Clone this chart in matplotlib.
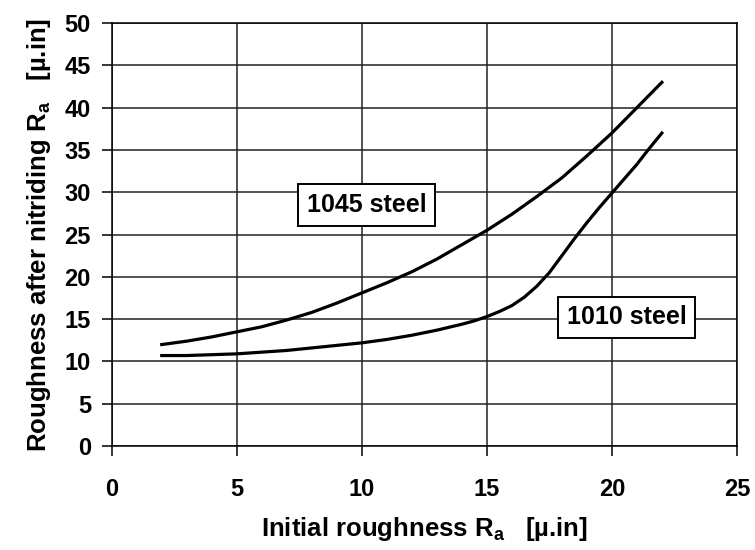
import matplotlib
matplotlib.use("Agg")
import matplotlib.pyplot as plt

plt.rcParams['font.family'] = ['Liberation Sans', 'DejaVu Sans']
plt.rcParams['font.weight'] = 'bold'
plt.rcParams['axes.labelweight'] = 'bold'
plt.rcParams['mathtext.fontset'] = 'custom'
plt.rcParams['mathtext.rm'] = 'Liberation Sans:bold'
plt.rcParams['mathtext.bf'] = 'Liberation Sans:bold'

# values
x_1045 = [2, 3, 4, 5, 6, 7, 8, 9, 10, 11, 12, 13, 14, 15, 16, 17, 18, 19, 20, 21, 22]
y_1045 = [12.0, 12.4, 12.9, 13.5, 14.1, 14.9, 15.8, 16.9, 18.1, 19.3, 20.6,
          22.1, 23.8, 25.5, 27.4, 29.5, 31.7, 34.3, 37.0, 40.0, 43.0]

x_1010 = [2, 3, 4, 5, 6, 7, 8, 9, 10, 11, 12, 13, 14, 14.5, 15, 15.5, 16, 16.5,
          17, 17.5, 18, 18.5, 19, 19.5, 20, 20.5, 21, 21.5, 22]
y_1010 = [10.7, 10.7, 10.8, 10.9, 11.1, 11.3, 11.6, 11.9, 12.2, 12.6, 13.1,
          13.7, 14.4, 14.8, 15.3, 15.9, 16.6, 17.6, 18.9, 20.5, 22.5, 24.5,
          26.4, 28.2, 29.9, 31.6, 33.3, 35.2, 37.0]

x_ticks = [0, 5, 10, 15, 20, 25]
y_ticks = [0, 5, 10, 15, 20, 25, 30, 35, 40, 45, 50]

fig = plt.figure(figsize=(7.55, 5.5), dpi=100)
ax = fig.add_axes([0.148, 0.189, 0.828, 0.769])

ax.plot(x_1045, y_1045, color='black', lw=2.3)
ax.plot(x_1010, y_1010, color='black', lw=2.3)

ax.set_xlim(0, 25)
ax.set_ylim(0, 50)
ax.set_xticks(x_ticks)
ax.set_yticks(y_ticks)
ax.grid(True, color='#222222', lw=1.1)
ax.tick_params(axis='both', labelsize=17, length=7, width=1.1, direction='out')
ax.tick_params(axis='x', pad=16)
ax.tick_params(axis='y', pad=8)
for s in ax.spines.values():
    s.set_linewidth(1.1)

ax.set_xlabel(r'Initial roughness R$_{\mathbf{a}}$   [µ.in]', fontsize=18.5, labelpad=10)
ax.set_ylabel(r'Roughness after nitriding R$_{\mathbf{a}}$   [µ.in]', fontsize=18.5, labelpad=8)

box = dict(boxstyle='square,pad=0.35', facecolor='white', edgecolor='black', lw=1.4)
ax.text(10.2, 28.5, '1045 steel', fontsize=18, ha='center', va='center', bbox=box)
ax.text(20.6, 15.2, '1010 steel', fontsize=18, ha='center', va='center', bbox=box)

fig.savefig('out.png', dpi=100, facecolor='white')
